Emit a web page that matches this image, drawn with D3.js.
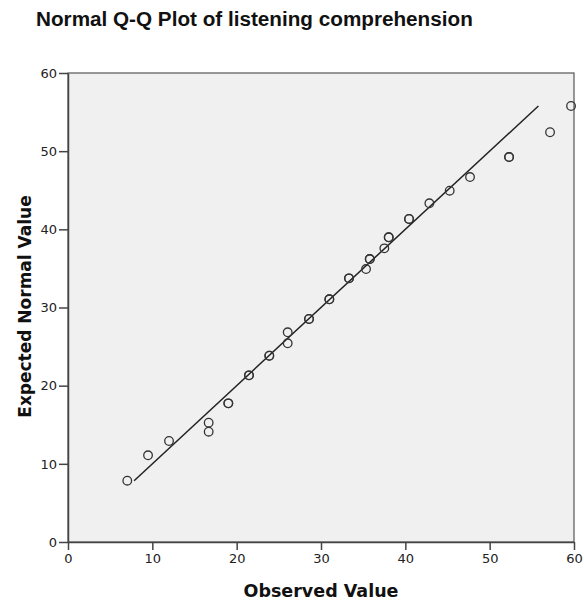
<!DOCTYPE html>
<html>
<head>
<meta charset="utf-8">
<script src="https://cdn.jsdelivr.net/npm/d3@7"></script>
<style>
  body { margin: 0; background: #fff; }
  svg { display: block; }
</style>
</head>
<body>
<svg id="chart"></svg>
<script>
var width = 584,
    height = 602;

// observed values (x) and expected normal values (y); repeated pairs are ties
var observed = [7.03, 9.49, 11.98, 16.68, 16.68, 19.01, 19.01, 21.46, 21.46, 23.87, 23.87,
    26.05, 26.05, 28.58, 28.58, 30.99, 30.99, 33.32, 33.32, 35.34, 35.78, 35.78,
    37.51, 38.03, 38.03, 40.44, 40.44, 42.85, 45.26, 47.67, 52.3, 52.3, 57.16, 59.65];
var expected = [7.84, 11.09, 12.92, 15.26, 14.11, 17.74, 17.74, 21.32, 21.32, 23.83, 23.83,
    25.42, 26.83, 28.53, 28.53, 31.05, 31.05, 33.73, 33.73, 34.92, 36.2, 36.2,
    37.57, 38.98, 38.98, 41.32, 41.32, 43.33, 44.94, 46.69, 49.25, 49.25, 52.42, 55.78];
var ticks = [0, 10, 20, 30, 40, 50, 60];

var margin = { left: 68, top: 73, right: 10, bottom: 60 };

var x = d3.scaleLinear()
    .domain([0, 60])
    .range([margin.left, width - margin.right]);

var y = d3.scaleLinear()
    .domain([0, 60])
    .range([height - margin.bottom, margin.top]);

var svg = d3.select('#chart')
    .attr('width', width)
    .attr('height', height);

// plot background
svg.append('rect')
    .attr('x', x(0))
    .attr('y', y(60))
    .attr('width', x(60) - x(0))
    .attr('height', y(0) - y(60))
    .attr('fill', '#f0f0f0')
    .attr('stroke', '#555')
    .attr('stroke-width', 1.2);

// axes
var xAxis = svg.append('g')
    .attr('transform', 'translate(0,' + y(0) + ')')
    .call(d3.axisBottom(x).tickValues(ticks).tickSize(8).tickPadding(4).tickSizeOuter(0));

var yAxis = svg.append('g')
    .attr('transform', 'translate(' + x(0) + ',0)')
    .call(d3.axisLeft(y).tickValues(ticks).tickSize(9).tickPadding(2).tickSizeOuter(0));

[xAxis, yAxis].forEach(function (g) {
    g.select('.domain').attr('stroke', '#444').attr('stroke-width', 1.5);
    g.selectAll('.tick line').attr('stroke', '#444').attr('stroke-width', 1.5);
    g.selectAll('.tick text')
        .attr('fill', '#222')
        .style('font-family', '"DejaVu Sans", Verdana, sans-serif')
        .style('font-size', '13px');
});

// reference line y = x over the range of expected values
var lo = d3.min(expected), hi = d3.max(expected);
svg.append('line')
    .attr('x1', x(lo)).attr('y1', y(lo))
    .attr('x2', x(hi)).attr('y2', y(hi))
    .attr('stroke', '#222')
    .attr('stroke-width', 1.5);

// points
svg.append('g')
    .selectAll('circle')
    .data(observed.map(function (d, i) { return [d, expected[i]]; }))
    .enter().append('circle')
    .attr('cx', function (d) { return x(d[0]); })
    .attr('cy', function (d) { return y(d[1]); })
    .attr('r', 4.3)
    .attr('fill', 'none')
    .attr('stroke', '#333')
    .attr('stroke-width', 1.3);

// titles
svg.append('text')
    .attr('x', 36)
    .attr('y', 26)
    .style('font-family', '"Liberation Sans", Arial, sans-serif')
    .style('font-weight', 'bold')
    .style('font-size', '20.7px')
    .attr('fill', '#111')
    .text('Normal Q-Q Plot of listening comprehension');

svg.append('text')
    .attr('x', (x(0) + x(60)) / 2)
    .attr('y', 597)
    .attr('text-anchor', 'middle')
    .style('font-family', '"DejaVu Sans", Verdana, sans-serif')
    .style('font-weight', 'bold')
    .style('font-size', '17.5px')
    .attr('fill', '#111')
    .text('Observed Value');

svg.append('text')
    .attr('transform', 'translate(31,' + (y(30) - 1) + ') rotate(-90)')
    .attr('text-anchor', 'middle')
    .style('font-family', '"DejaVu Sans", Verdana, sans-serif')
    .style('font-weight', 'bold')
    .style('font-size', '17px')
    .attr('fill', '#111')
    .text('Expected Normal Value');
</script>
</body>
</html>
